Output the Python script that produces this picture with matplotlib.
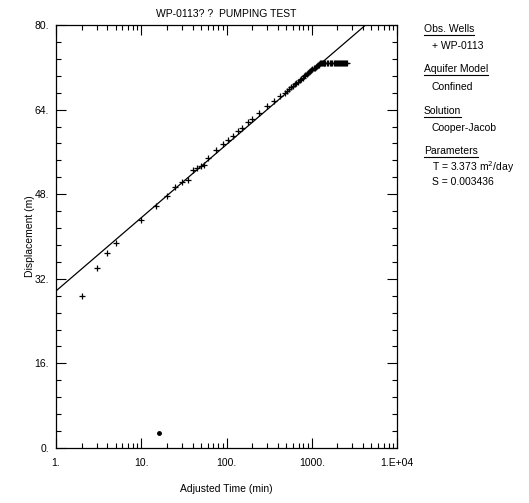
"""
Cooper-Jacob time-displacement plot for the WP-0113 pumping test.
"""

import matplotlib
matplotlib.use("Agg")
import matplotlib.pyplot as plt
from matplotlib.ticker import FixedLocator, FixedFormatter, LogLocator, NullFormatter, MultipleLocator
from matplotlib.lines import Line2D

plt.rcParams['font.family'] = ['Liberation Sans Narrow', 'Liberation Sans', 'DejaVu Sans']

# observed data (adjusted time in min, displacement in m)
time_min = [2, 3, 4, 5, 10, 15, 20, 25, 30, 35, 40, 45, 50, 55, 60,
            75, 90, 105, 120, 135, 150, 180, 200, 240, 300, 360, 420,
            480, 510, 540, 570, 600, 630, 660, 690, 720, 750, 780, 810,
            840, 870, 900, 930, 960, 990, 1020, 1050, 1080, 1110, 1140,
            1170, 1200, 1230, 1260, 1290, 1320, 1350, 1380, 1410, 1440,
            1500, 1560, 1620, 1680, 1740, 1800, 1860, 1920, 1980, 2040,
            2100, 2160, 2220, 2280, 2340, 2400, 2460, 2520, 2580]
displacement = [28.8, 34.0, 36.8, 38.7, 43.1, 45.8, 47.6, 49.4, 50.4, 50.6,
                52.6, 53.0, 53.3, 53.6, 54.9,
                56.3, 57.4, 58.3, 59.1, 59.9, 60.5, 61.6, 62.2, 63.3, 64.6,
                65.6, 66.5,
                67.2, 67.6, 67.9, 68.2, 68.5, 68.8, 69.1, 69.3, 69.6, 69.8,
                70.0, 70.3, 70.5, 70.7, 70.9, 71.1, 71.3, 71.4, 71.6, 71.8,
                71.9, 72.1, 72.2, 72.4, 72.5, 72.7, 72.8, 72.8, 72.9, 72.8,
                72.8, 72.9, 72.8, 72.8, 72.8, 72.9, 72.8, 72.8, 72.8, 72.9,
                72.8, 72.8, 72.8, 72.8, 72.9, 72.8, 72.8, 72.8, 72.8, 72.8,
                72.9, 72.8]

# stray reading
outlier_t = [16]
outlier_s = [2.9]

# Cooper-Jacob straight line (end points)
fit_t = [1.0, 10000.0]
fit_s = [29.7, 85.1]

x_ticks = [1, 10, 100, 1000, 10000]
x_labels = ['1.', '10.', '100.', '1000.', '1.E+04']
y_ticks = [0, 16, 32, 48, 64, 80]
y_labels = ['0.', '16.', '32.', '48.', '64.', '80.']

# side panel text: (text, underlined, indented)
legend_lines = [
    ('Obs. Wells', True, 0),
    ('+ WP-0113', False, 1),
    ('Aquifer Model', True, 0),
    ('Confined', False, 1),
    ('Solution', True, 0),
    ('Cooper-Jacob', False, 1),
    ('Parameters', True, 0),
    ('T = 3.373 m$^2$/day', False, 1),
    ('S = 0.003436', False, 1),
]
# vertical pixel position of each side panel line (from top)
legend_px = [29, 46, 69, 87, 111, 128, 151, 167, 182]

W, H = 529, 503
fig = plt.figure(figsize=(W / 100, H / 100), dpi=100)
ax = fig.add_axes([56 / W, 1 - 448 / H, 341 / W, 423 / H])

ax.plot(fit_t, fit_s, color='black', lw=0.9)
ax.plot(time_min, displacement, '+', color='black', ms=5, mew=0.9)
ax.plot(outlier_t, outlier_s, 'o', color='black', ms=2.5)

ax.set_xscale('log')
ax.set_xlim(1, 10000)
ax.set_ylim(0, 80)

ax.xaxis.set_major_locator(FixedLocator(x_ticks))
ax.xaxis.set_major_formatter(FixedFormatter(x_labels))
ax.xaxis.set_minor_locator(LogLocator(base=10, subs=range(2, 10)))
ax.xaxis.set_minor_formatter(NullFormatter())
ax.yaxis.set_major_locator(FixedLocator(y_ticks))
ax.yaxis.set_major_formatter(FixedFormatter(y_labels))
ax.yaxis.set_minor_locator(MultipleLocator(3.2))

ax.tick_params(which='both', direction='in', top=True, right=True,
               width=0.8, labelsize=7.5, colors='black')
ax.tick_params(which='major', length=7, pad=5)
ax.tick_params(axis='x', which='major', pad=7)
ax.tick_params(which='minor', length=3.5)
for sp in ax.spines.values():
    sp.set_linewidth(0.9)

ax.set_title('WP-0113? ?  PUMPING TEST', fontsize=7.5, pad=6)
ax.set_xlabel('Adjusted Time (min)', fontsize=7.5, labelpad=12)
ax.set_ylabel('Displacement (m)', fontsize=7.5, labelpad=0)

# side panel
x0 = 424 / W
indent = 8 / W
fig.canvas.draw()
renderer = fig.canvas.get_renderer()
for (txt, underline, ind), py in zip(legend_lines, legend_px):
    y = 1 - py / H
    t = fig.text(x0 + ind * indent, y, txt, fontsize=7.5, va='center', ha='left')
    if underline:
        bb = t.get_window_extent(renderer).transformed(fig.transFigure.inverted())
        fig.add_artist(Line2D([bb.x0, bb.x1], [bb.y0 - 0.002, bb.y0 - 0.002],
                              transform=fig.transFigure, color='black', lw=0.8))

fig.savefig('out.png', dpi=100)
